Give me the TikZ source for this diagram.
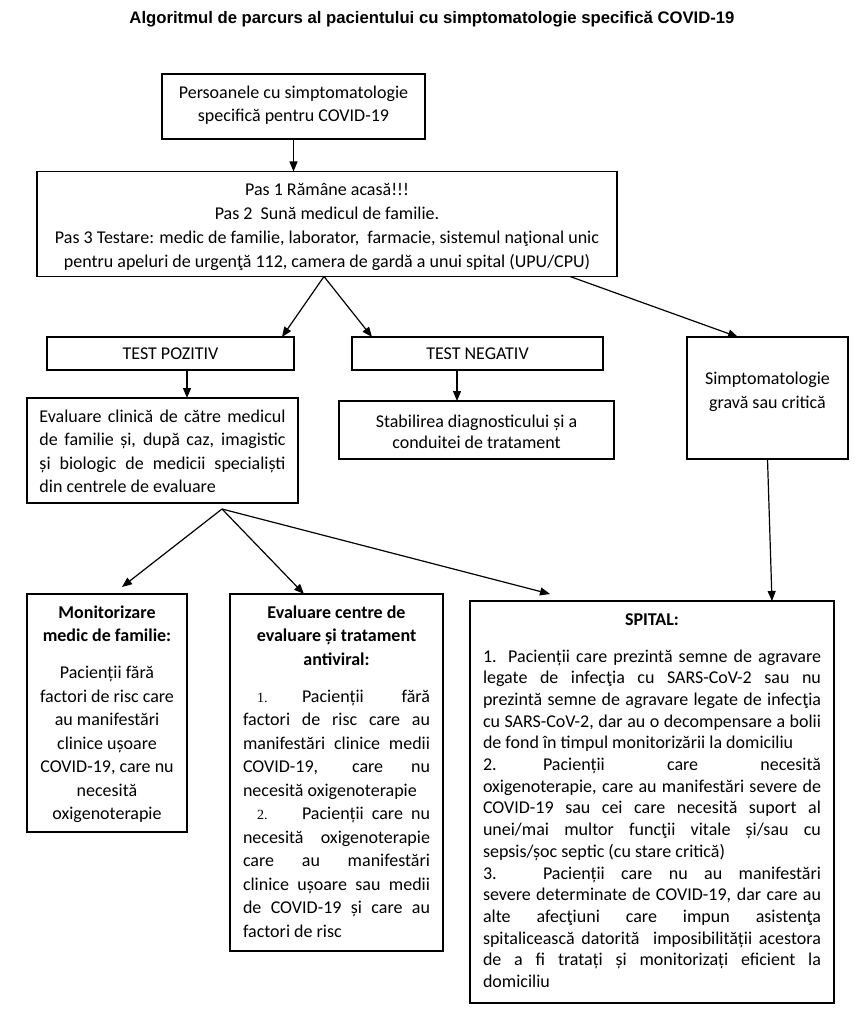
\documentclass[tikz,border=0pt]{standalone}
\usepackage{fontspec}
\setmainfont{Carlito}
\newfontfamily\titlefont{Liberation Sans}
\newfontfamily\numfont{Liberation Serif}
\usetikzlibrary{arrows.meta}
\newcommand\jl[2]{\makebox[#1pt][s]{#2}}
\newcommand\jleft[2]{\makebox[#1pt][l]{#2}}
\newcommand\fstr{\rule{0pt}{14pt}}
\newcommand\mainfs{\fontsize{18}{23.5}\selectfont}
\begin{document}
\begin{tikzpicture}[x=1pt,y=-1pt,
  box/.style={draw,line width=1.8pt,inner sep=0pt,outer sep=0pt},
  arr/.style={line width=1.2pt,-{Triangle[length=10pt,width=8pt]}}]
\useasboundingbox (0,0) rectangle (864,1024);
\fill[white] (0,0) rectangle (864,1024);
\node[font=\titlefont\bfseries\fontsize{16.7}{19}\selectfont] (title) at (432,19.5)
  {Algoritmul de parcurs al pacientului cu simptomatologie specifică COVID-19};
% top box
\node[box] (b1) at (293.5,106.5) {\parbox[c][65pt][t]{263pt}{\centering\fontsize{18}{23}\selectfont
  \vspace*{11pt}\fstr Persoanele cu simptomatologie\\specifică pentru COVID-19}};
\node[box] (b2) at (327,224) {\parbox[c][105pt][t]{580pt}{\centering\fontsize{18}{24}\selectfont
  \vspace*{10pt}\fstr Pas 1 Rămâne acasă!!!\\
  Pas 2\ \ Sună medicul de familie.\\
  Pas 3 Testare: medic de familie, laborator,\ \ farmacie, sistemul naţional unic\\
  pentru apeluri de urgenţă 112, camera de gardă a unui spital (UPU/CPU)}};
\node[box,minimum width=247pt,minimum height=33pt,font=\mainfs] (tp) at (170.5,353.5) {TEST POZITIV};
\node[box,minimum width=251pt,minimum height=33pt,font=\mainfs] (tn) at (477.5,353.5) {TEST NEGATIV};
\node[box] (simp) at (767.5,398) {\parbox[c][122pt][t]{161pt}{\centering\fontsize{18}{24}\selectfont
  \vspace*{33pt}\fstr Simptomatologie\\gravă sau critică}};
\node[box] (ev) at (162.5,450.5) {\parbox[c][105pt][t]{271pt}{\centering\fontsize{18}{23.5}\selectfont
  \vspace*{10pt}\fstr\jl{246}{Evaluare clinică de către medicul}\\
  \jl{246}{de familie și, după caz, imagistic}\\
  \jl{246}{și biologic de medicii specialiști}\\
  \jleft{246}{din centrele de evaluare}}};
\node[box] (stab) at (476.5,430) {\parbox[c][58pt][t]{275pt}{\centering\fontsize{18}{21.7}\selectfont
  \vspace*{12pt}\fstr Stabilirea diagnosticului și a\\conduitei de tratament}};
% bottom boxes
\node[box] (mon) at (107,713) {\parbox[c][238pt][t]{160pt}{\centering\fontsize{18}{23.5}\selectfont
  \vspace*{10pt}\fstr\textbf{Monitorizare}\\\textbf{medic de familie:}\\[13.5pt]
  Pacienții fără\\factori de risc care\\au manifestări\\clinice ușoare\\COVID-19, care nu\\necesită\\oxigenoterapie}};
\node[box] (evc) at (336.5,772.5) {\parbox[c][357pt][t]{213pt}{\centering\fontsize{18}{23.5}\selectfont
  \vspace*{10pt}\fstr\textbf{Evaluare centre de}\\\textbf{evaluare și tratament}\\\textbf{antiviral:}\\[13.5pt]
  \jl{187}{\hspace*{14pt}\makebox[45pt][l]{\numfont\fontsize{14}{16}\selectfont 1.}Pacienții fără}\\
  \jl{187}{factori de risc care au}\\
  \jl{187}{manifestări clinice medii}\\
  \jl{187}{COVID-19, care nu}\\
  \jleft{187}{necesită oxigenoterapie}\\
  \jl{187}{\hspace*{14pt}\makebox[45pt][l]{\numfont\fontsize{14}{16}\selectfont 2.}Pacienții care nu}\\
  \jl{187}{necesită oxigenoterapie}\\
  \jl{187}{care au manifestări}\\
  \jl{187}{clinice ușoare sau medii}\\
  \jl{187}{de COVID-19 și care au}\\
  \jleft{187}{factori de risc}}};
\node[box] (spital) at (652,802) {\parbox[c][402pt][t]{364pt}{\centering\fontsize{18}{21.7}\selectfont
  \vspace*{11pt}\rule{0pt}{13pt}\textbf{SPITAL:}\\[15.3pt]
  \jl{338}{1. Pacienții care prezintă semne de agravare}\\
  \jl{338}{legate de infecţia cu SARS-CoV-2 sau nu}\\
  \jl{338}{prezintă semne de agravare legate de infecţia}\\
  \jl{338}{cu SARS-CoV-2, dar au o decompensare a bolii}\\
  \jleft{338}{de fond în timpul monitorizării la domiciliu}\\
  \jl{338}{\makebox[60pt][l]{2.}Pacienții care necesită}\\
  \jl{338}{oxigenoterapie, care au manifestări severe de}\\
  \jl{338}{COVID-19 sau cei care necesită suport al}\\
  \jl{338}{unei/mai multor funcţii vitale și/sau cu}\\
  \jleft{338}{sepsis/șoc septic (cu stare critică)}\\
  \jl{338}{\makebox[60pt][l]{3.}Pacienții care nu au manifestări}\\
  \jl{338}{severe determinate de COVID-19, dar care au}\\
  \jl{338}{alte afecţiuni care impun asistenţa}\\
  \jl{338}{spitalicească datorită\ \ imposibilității acestora}\\
  \jl{338}{de a fi tratați și monitorizați eficient la}\\
  \jleft{338}{domiciliu}}};
% connectors
\coordinate (evo) at (222,509);
\draw[arr] (b1.south) -- (b1.south |- b2.north);
\draw[arr] ([xshift=-3pt]b2.south) -- ([xshift=111.5pt]tp.north);
\draw[arr] ([xshift=-3pt]b2.south) -- ([xshift=-105.5pt]tn.north);
\draw[arr] ([xshift=-47pt]b2.south east) -- ([xshift=-29.5pt]simp.north);
\draw[arr] ([xshift=16.5pt]tp.south) -- ([xshift=16.5pt]tp.south |- ev.north);
\draw[arr] ([xshift=-20.5pt]tn.south) -- ([xshift=-20.5pt]tn.south |- stab.north);
\draw[arr] (evo) -- ([xshift=15pt,yshift=7pt]mon.north);
\draw[arr] (evo) -- ([xshift=-32.5pt]evc.north);
\draw[arr] (evo) -- ([xshift=-102pt,yshift=7pt]spital.north);
\draw[arr] (simp.south) -- ([xshift=120pt]spital.north);
\end{tikzpicture}
\end{document}
